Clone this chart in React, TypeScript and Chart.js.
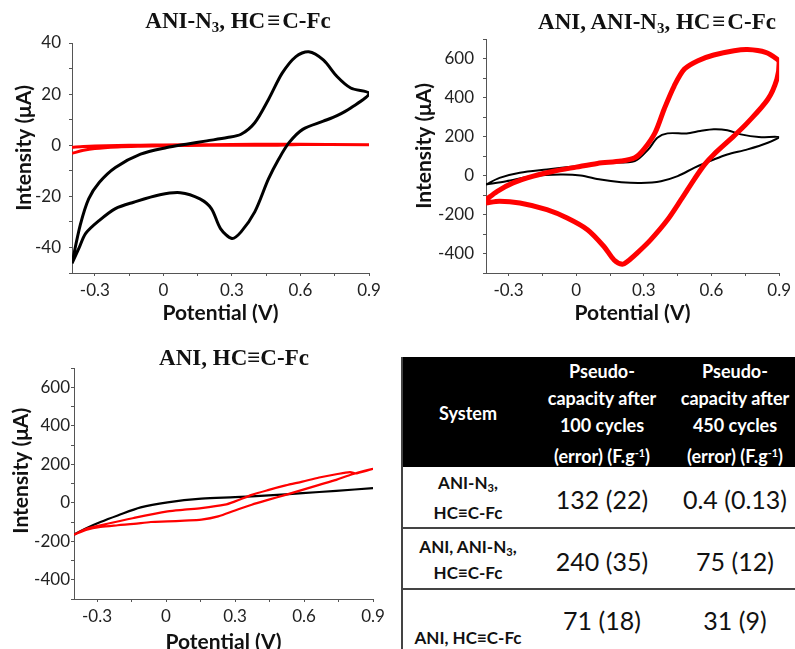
import React, { useEffect, useRef } from 'react';
import { Chart, registerables } from 'chart.js';

Chart.register(...registerables);

// ---------- Data ----------
const X_TICKS = [-0.3, -0.15, 0, 0.15, 0.3, 0.45, 0.6, 0.75, 0.9];
const X_LABELS = ['-0.3', '', '0', '', '0.3', '', '0.6', '', '0.9'];

const Y1_TICKS = [-50, -40, -30, -20, -10, 0, 10, 20, 30, 40];
const Y1_LABELS = ['', '-40', '', '-20', '', '0', '', '20', '', '40'];
const Y2_TICKS = [-500, -400, -300, -200, -100, 0, 100, 200, 300, 400, 500, 600, 700];
const Y2_LABELS = ['', '-400', '', '-200', '', '0', '', '200', '', '400', '', '600', ''];

// Plot 1: ANI-N3, HC≡C-Fc
const P1_BLACK_E = [-0.4, -0.364, -0.327, -0.28, -0.21, -0.1, 0.015, 0.1, 0.19, 0.28, 0.34, 0.4, 0.46, 0.52, 0.58, 0.636, 0.7, 0.76, 0.82, 0.9,
  0.82, 0.76, 0.7, 0.61, 0.55, 0.505, 0.46, 0.4, 0.34, 0.3, 0.25, 0.21, 0.16, 0.074, -0.015, -0.13, -0.21, -0.28, -0.34, -0.37, -0.4];
const P1_BLACK_I = [-46.2, -31.3, -21, -14.5, -8.7, -3.5, -0.9, 0.4, 1.7, 3, 4.3, 8.8, 17.9, 28.2, 34.7, 36.6, 33.4, 26.9, 22.4, 20.2,
  14.6, 11.6, 9.4, 6.2, 1.0, -5.4, -13.2, -26.1, -33.9, -36.5, -32.6, -24.8, -21, -18.6, -19.4, -22.3, -24.8, -29.4, -34.5, -40.4, -46.2];
const P1_RED_E = [-0.4, -0.35, -0.3, -0.2, -0.1, 0, 0.2, 0.4, 0.6, 0.9, 0.6, 0.5, 0.3, 0.1, 0, -0.1, -0.2, -0.3, -0.35, -0.4];
const P1_RED_I = [-0.8, -0.5, -0.3, -0.1, 0, 0.1, 0.2, 0.4, 0.4, 0.2, 0.3, 0.0, 0.0, -0.1, -0.2, -0.4, -0.7, -1.3, -2.0, -3.2];

// Plot 2: ANI, ANI-N3, HC≡C-Fc
const P2_RED_E = [-0.4, -0.35, -0.28, -0.19, -0.1, 0, 0.094, 0.2, 0.26, 0.3, 0.35, 0.39, 0.435, 0.48, 0.54, 0.61, 0.7, 0.76, 0.84, 0.89, 0.9,
  0.89, 0.85, 0.76, 0.7, 0.61, 0.57, 0.525, 0.465, 0.405, 0.33, 0.27, 0.227, 0.205, 0.168, 0.123, 0.05, -0.04, -0.13, -0.25, -0.34, -0.4];
const P2_RED_I = [-124, -81, -38, -3, 22, 43, 62, 74, 91, 134, 220, 340, 460, 546, 589, 618, 640, 646, 632, 598, 580,
  494, 391, 271, 203, 108, 57, -17, -124, -227, -330, -398, -441, -455, -433, -364, -278, -218, -175, -141, -132, -141];
const P2_BLACK_E = [-0.4, -0.34, -0.25, -0.13, 0, 0.14, 0.26, 0.32, 0.36, 0.405, 0.49, 0.55, 0.61, 0.67, 0.73, 0.81, 0.9,
  0.85, 0.76, 0.67, 0.61, 0.525, 0.45, 0.376, 0.287, 0.2, 0.108, 0.02, -0.07, -0.19, -0.31, -0.4];
const P2_BLACK_I = [-46, -12, 14, 31, 48, 65, 74, 134, 194, 216, 216, 228, 237, 232, 211, 197, 197,
  168, 134, 108, 82, 40, -3, -29, -38, -34, -21, 0, 5, -3, -29, -46];

// Plot 3: ANI, HC≡C-Fc
const P3_BLACK_E = [-0.4, -0.344, -0.285, -0.21, -0.11, 0.007, 0.154, 0.3, 0.447, 0.593, 0.74, 0.9];
const P3_BLACK_I = [-166, -131, -100, -66, -24, 2, 21, 29, 38, 50, 62, 76];
const P3_RED_E = [-0.4, -0.344, -0.285, -0.14, 0.007, 0.08, 0.154, 0.256, 0.3, 0.373, 0.447, 0.52, 0.593, 0.666, 0.74, 0.8, 0.83, 0.9,
  0.81, 0.74, 0.666, 0.593, 0.52, 0.447, 0.373, 0.3, 0.227, 0.154, 0.08, 0.007, -0.066, -0.14, -0.21, -0.285, -0.344, -0.4];
const P3_RED_I = [-166, -134, -117, -79, -45, -36, -28, -10, 7, 41, 67, 90, 110, 131, 148, 159, 153, 176,
  148, 119, 93, 67, 41, 16, -10, -40, -71, -88, -93, -97, -100, -110, -117, -126, -140, -166];

// Table
const TABLE_HEADERS = ['System', 'Pseudo-|capacity after|100 cycles|(error) (F.g-1)', 'Pseudo-|capacity after|450 cycles|(error) (F.g-1)'];
const TABLE_SYSTEMS = ['ANI-N3,|HC≡C-Fc', 'ANI, ANI-N3,|HC≡C-Fc', 'ANI, HC≡C-Fc'];
const CAP_100 = ['132 (22)', '240 (35)', '71 (18)'];
const CAP_450 = ['0.4 (0.13)', '75 (12)', '31 (9)'];

// ---------- Chart helpers ----------
const pts = (xs: number[], ys: number[]) => xs.map((x, i) => ({ x, y: ys[i] }));

type PlotOpts = {
  datasets: any[];
  yMin: number; yMax: number; yTicks: number[]; yLabels: string[];
  padTop: number; padRight: number; yWidth: number; xHeight: number;
  yTitlePad: number; yTitleShift: number; xTitlePad: number;
  yTickLen: number; yTickPad: number;
};

const TICK_FONT = { family: 'Lato, "Open Sans", sans-serif', size: 17 };
const TITLE_FONT = { family: 'Lato, "Open Sans", sans-serif', size: 21, weight: 'bold' as const };

function buildConfig(o: PlotOpts): any {
  return {
    type: 'scatter',
    data: { datasets: o.datasets },
    options: {
      animation: false,
      responsive: false,
      maintainAspectRatio: false,
      layout: { padding: { top: o.padTop, right: o.padRight, bottom: 0, left: 0 } },
      plugins: { legend: { display: false }, tooltip: { enabled: false }, title: { display: false } },
      scales: {
        x: {
          type: 'linear', min: -0.4, max: 0.9,
          afterBuildTicks: (s: any) => { s.ticks = X_TICKS.map(v => ({ value: v })); },
          afterFit: (s: any) => { s.height = o.xHeight; },
          ticks: {
            autoSkip: false, maxRotation: 0, padding: 4, color: '#222', font: TICK_FONT,
            callback: (v: number) => { const i = X_TICKS.findIndex(t => Math.abs(t - v) < 1e-6); return i >= 0 ? X_LABELS[i] : ''; },
          },
          grid: { drawOnChartArea: false, drawTicks: true, tickLength: 3, color: '#555' },
          border: { color: '#555', width: 1 },
          title: { display: true, text: 'Potential (V)', color: '#111', font: TITLE_FONT, padding: { top: 0, bottom: o.xTitlePad } },
        },
        y: {
          type: 'linear', min: o.yMin, max: o.yMax,
          afterBuildTicks: (s: any) => { s.ticks = o.yTicks.map(v => ({ value: v })); },
          afterFit: (s: any) => { s.width = o.yWidth; },
          ticks: {
            autoSkip: false, padding: o.yTickPad, color: '#222', font: TICK_FONT,
            callback: (v: number) => { const i = o.yTicks.indexOf(v); return i >= 0 ? o.yLabels[i] : ''; },
          },
          grid: { drawOnChartArea: false, drawTicks: true, tickLength: o.yTickLen, color: '#555' },
          border: { color: '#555', width: 1 },
          title: {
            display: true, text: ' '.repeat(o.yTitleShift) + 'Intensity (μA)', color: '#111', font: TITLE_FONT,
            padding: { top: o.yTitlePad, bottom: 0 },
          },
        },
      },
    },
  };
}

const line = (xs: number[], ys: number[], color: string, width: number, tension = 0.3) => ({
  data: pts(xs, ys), showLine: true, borderColor: color, backgroundColor: color,
  borderWidth: width, pointRadius: 0, tension, fill: false,
});

function Plot({ opts, width, height, left, top }: { opts: PlotOpts; width: number; height: number; left: number; top: number }) {
  const ref = useRef<HTMLCanvasElement>(null);
  useEffect(() => {
    if (!ref.current) return;
    const chart = new Chart(ref.current, buildConfig(opts));
    return () => chart.destroy();
  }, []);
  return (
    <canvas ref={ref} width={width} height={height}
      style={{ position: 'absolute', left, top, width, height, display: 'block' }} />
  );
}

const plot1: PlotOpts = {
  datasets: [
    line(P1_BLACK_E, P1_BLACK_I, '#000000', 3),
    line(P1_RED_E, P1_RED_I, '#ff0000', 3),
  ],
  yMin: -50, yMax: 40, yTicks: Y1_TICKS, yLabels: Y1_LABELS,
  padTop: 43, padRight: 26, yWidth: 72, xHeight: 57,
  yTitlePad: 12, yTitleShift: 4, xTitlePad: 4, yTickLen: 3, yTickPad: 8,
};
const plot2: PlotOpts = {
  datasets: [
    line(P2_RED_E, P2_RED_I, '#ff0000', 5),
    line(P2_BLACK_E, P2_BLACK_I, '#000000', 2),
  ],
  yMin: -500, yMax: 700, yTicks: Y2_TICKS, yLabels: Y2_LABELS,
  padTop: 39, padRight: 13, yWidth: 91, xHeight: 57,
  yTitlePad: 17, yTitleShift: 4, xTitlePad: 4, yTickLen: 3, yTickPad: 9,
};
const plot3: PlotOpts = {
  datasets: [
    line(P3_RED_E, P3_RED_I, '#ff0000', 2.2),
    line(P3_BLACK_E, P3_BLACK_I, '#000000', 2.2),
  ],
  yMin: -500, yMax: 700, yTicks: Y2_TICKS, yLabels: Y2_LABELS,
  padTop: 38, padRight: 22, yWidth: 74, xHeight: 61,
  yTitlePad: 9, yTitleShift: 5, xTitlePad: 5, yTickLen: 3, yTickPad: 1,
};

// ---------- Text helpers ----------
function Rich({ text }: { text: string }) {
  // render N3 subscript and g-1 superscript
  const parts = text.split(/(N3|g-1)/);
  return (
    <>
      {parts.map((p, i) => {
        if (p === 'N3') return <React.Fragment key={i}>N<sub style={{ fontSize: '0.65em', verticalAlign: '-0.25em' }}>3</sub></React.Fragment>;
        if (p === 'g-1') return <React.Fragment key={i}>g<sup style={{ fontSize: '0.6em', verticalAlign: '0.6em' }}>-1</sup></React.Fragment>;
        return <React.Fragment key={i}>{p}</React.Fragment>;
      })}
    </>
  );
}

function At({ cx, cy, style, children }: { cx: number; cy: number; style?: React.CSSProperties; children: React.ReactNode }) {
  return (
    <div style={{ position: 'absolute', left: cx, top: cy, transform: 'translate(-50%, -50%)', whiteSpace: 'nowrap', textAlign: 'center', ...style }}>
      {children}
    </div>
  );
}

const SERIF_TITLE: React.CSSProperties = { fontFamily: '"Liberation Serif", "Times New Roman", serif', fontWeight: 'bold', fontSize: 23, color: '#111', lineHeight: '26px' };
const HEAD: React.CSSProperties = { fontFamily: 'Lato, "Open Sans", sans-serif', fontWeight: 'bold', fontSize: 18, color: '#fff', lineHeight: '27px' };
const SYS: React.CSSProperties = { fontFamily: 'Lato, "Open Sans", sans-serif', fontWeight: 'bold', fontSize: 17, color: '#111' };
const NUM: React.CSSProperties = { fontFamily: 'Lato, "Open Sans", sans-serif', fontSize: 25, color: '#111' };

const COL_CX = [468, 602, 735];
const ROW_SYS_LINES = [[483, 512], [547, 572], [637]];
const ROW_NUM_CY = [499, 561, 620];

export default function App() {
  useEffect(() => { document.body.style.margin = '0'; }, []);
  return (
    <div style={{ position: 'absolute', left: 0, top: 0, width: 795, height: 649, overflow: 'hidden', background: '#fff' }}>
      <Plot opts={plot1} width={395} height={330} left={0} top={0} />
      <Plot opts={plot2} width={400} height={330} left={395} top={0} />
      <Plot opts={plot3} width={395} height={330} left={0} top={330} />

      <At cx={238} cy={24} style={SERIF_TITLE}><Rich text="ANI-N3, HC&#8202;≡&#8202;C-Fc" /></At>
      <At cx={657} cy={25} style={SERIF_TITLE}><Rich text="ANI, ANI-N3, HC&#8202;≡&#8202;C-Fc" /></At>
      <At cx={234} cy={358} style={SERIF_TITLE}><Rich text="ANI, HC≡C-Fc" /></At>

      {/* table */}
      <div style={{ position: 'absolute', left: 402, top: 357, width: 400, height: 110, background: '#000' }} />
      <div style={{ position: 'absolute', left: 401, top: 357, width: 2, height: 300, background: '#444' }} />
      <div style={{ position: 'absolute', left: 402, top: 527, width: 400, height: 2, background: '#444' }} />
      <div style={{ position: 'absolute', left: 402, top: 588, width: 400, height: 2, background: '#444' }} />

      <At cx={COL_CX[0]} cy={413} style={HEAD}>{TABLE_HEADERS[0]}</At>
      {[1, 2].map(c => (
        <At key={c} cx={COL_CX[c]} cy={414} style={HEAD}>
          {TABLE_HEADERS[c].split('|').map((l, i) => <div key={i}><Rich text={l} /></div>)}
        </At>
      ))}
      {TABLE_SYSTEMS.map((s, r) => s.split('|').map((l, i) => (
        <At key={`${r}-${i}`} cx={COL_CX[0]} cy={ROW_SYS_LINES[r][i]} style={SYS}><Rich text={l} /></At>
      )))}
      {CAP_100.map((v, r) => <At key={`a${r}`} cx={COL_CX[1]} cy={ROW_NUM_CY[r]} style={NUM}>{v}</At>)}
      {CAP_450.map((v, r) => <At key={`b${r}`} cx={COL_CX[2]} cy={ROW_NUM_CY[r]} style={NUM}>{v}</At>)}
    </div>
  );
}
